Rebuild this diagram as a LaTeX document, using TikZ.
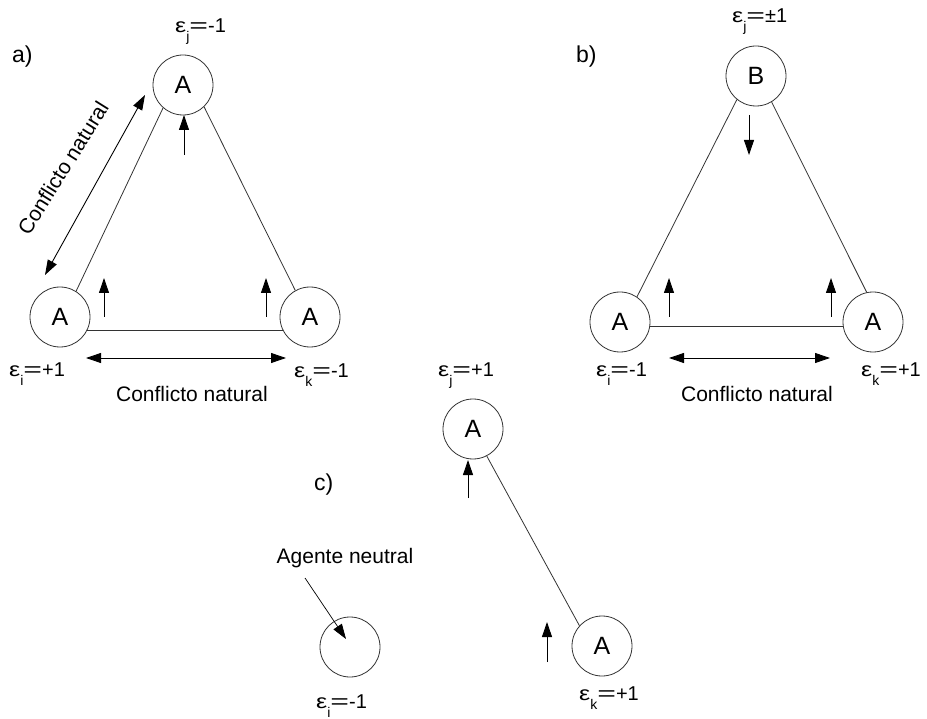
\documentclass[tikz,border=0pt]{standalone}
\usepackage{fontspec}
\usepackage{graphicx}
\setmainfont{Liberation Sans}
\usetikzlibrary{arrows.meta,calc}
\newcommand\epsub[2]{\scalebox{1.25}[1]{ε}\raisebox{-9pt}{\fontsize{14pt}{14pt}\selectfont #1}#2}
\newcommand\eqw{\scalebox{1.6}[1]{=}}
\tikzset{
  agent/.style={circle,draw=black!80,line width=0.8pt,minimum size=60pt,inner sep=0pt,font=\fontsize{25pt}{25pt}\selectfont},
  lbl/.style={inner sep=0pt,anchor=base west,font=\fontsize{20pt}{20pt}\selectfont},
  lblp/.style={inner sep=0pt,anchor=base west,font=\fontsize{23pt}{23pt}\selectfont},
  lblc/.style={inner sep=0pt,anchor=base,font=\fontsize{21pt}{21pt}\selectfont},
  edge/.style={draw=black!80,line width=0.8pt},
  arr/.style={line width=0.9pt,-{Triangle[length=15pt,width=10pt]}},
  darr/.style={line width=0.9pt,{Triangle[length=15pt,width=10pt]}-{Triangle[length=15pt,width=10pt]}}
}
\begin{document}
\begin{tikzpicture}[x=1pt,y=-1pt]
\useasboundingbox (0,0) rectangle (927,719);
% ---------- a)
\node[agent] (ai) at (60,317) {A};
\node[agent] (aj) at (183,85) {A};
\node[agent] (ak) at (310,317) {A};
\draw[edge] (ai.58) -- (aj.229);
\draw[edge] (aj.-46) -- (ak.119);
\draw[edge] (ai.-27) -- (ak.207);
\coordinate (a1s) at (184,155); \coordinate (a1e) at (184,115);
\coordinate (a2s) at (104,317); \coordinate (a2e) at (104,278);
\coordinate (a3s) at (266,317); \coordinate (a3e) at (266,278);
\draw[arr] (a1s) -- (a1e);
\draw[arr] (a2s) -- (a2e);
\draw[arr] (a3s) -- (a3e);
\coordinate (ad1) at (86,358); \coordinate (ad2) at (286,358);
\draw[darr] (ad1) -- (ad2);
\coordinate (ad3) at (45,275); \coordinate (ad4) at (145,95);
\draw[darr] (ad3) -- (ad4);
\node[lblc,anchor=center,rotate=58] (aconf2) at (63,168) {Conflicto natural};
\node[lblc] (aconf) at (192,402) {Conflicto natural};
\node[lblp] (alab) at (12,63) {a)};
\node[lbl] (aej) at (175,33) {\epsub{j}{\eqw-1}};
\node[lbl] (aei) at (9,377) {\epsub{i}{\eqw+1}};
\node[lbl] (aek) at (294,378) {\epsub{k}{\eqw-1}};
% ---------- b)
\node[agent] (bi) at (620,322) {A};
\node[agent] (bj) at (756,76) {B};
\node[agent] (bk) at (873,322) {A};
\draw[edge] (bi.56) -- (bj.231);
\draw[edge] (bj.-59) -- (bk.102);
\draw[edge] (bi.-9) -- (bk.189);
\coordinate (b1s) at (749,115); \coordinate (b1e) at (749,155);
\coordinate (b2s) at (669,317); \coordinate (b2e) at (669,278);
\coordinate (b3s) at (831,317); \coordinate (b3e) at (831,278);
\draw[arr] (b1s) -- (b1e);
\draw[arr] (b2s) -- (b2e);
\draw[arr] (b3s) -- (b3e);
\coordinate (bd1) at (669,358); \coordinate (bd2) at (830,358);
\draw[darr] (bd1) -- (bd2);
\node[lblc] (bconf) at (757,402) {Conflicto natural};
\node[lblp] (blab) at (576,63) {b)};
\node[lbl] (bej) at (732,23) {\epsub{j}{\eqw±1}};
\node[lbl] (bei) at (596,377) {\epsub{i}{\eqw-1}};
\node[lbl] (bek) at (861,377) {\epsub{k}{\eqw+1}};
% ---------- c)
\node[agent] (cj) at (473,429) {A};
\node[agent] (ck) at (602,646) {A};
\node[agent] (ci) at (350,647) {};
\draw[edge] (cj.-63) -- (ck.138);
\coordinate (c1s) at (468,498); \coordinate (c1e) at (468,460);
\coordinate (c2s) at (547,662); \coordinate (c2e) at (547,622);
\draw[arr] (c1s) -- (c1e);
\draw[arr] (c2s) -- (c2e);
\node[lblc] (cneu) at (345,563) {Agente neutral};
\coordinate (cn1) at (305,578);
\draw[arr,line width=0.7pt] (cn1) -- ($(ci.center)+(-4,-8)$);
\node[lblp] (clab) at (314,490) {c)};
\node[lbl] (cej) at (438,377) {\epsub{j}{\eqw+1}};
\node[lbl] (cei) at (316,708) {\epsub{i}{\eqw-1}};
\node[lbl] (cek) at (579,700) {\epsub{k}{\eqw+1}};
\end{tikzpicture}
\end{document}
